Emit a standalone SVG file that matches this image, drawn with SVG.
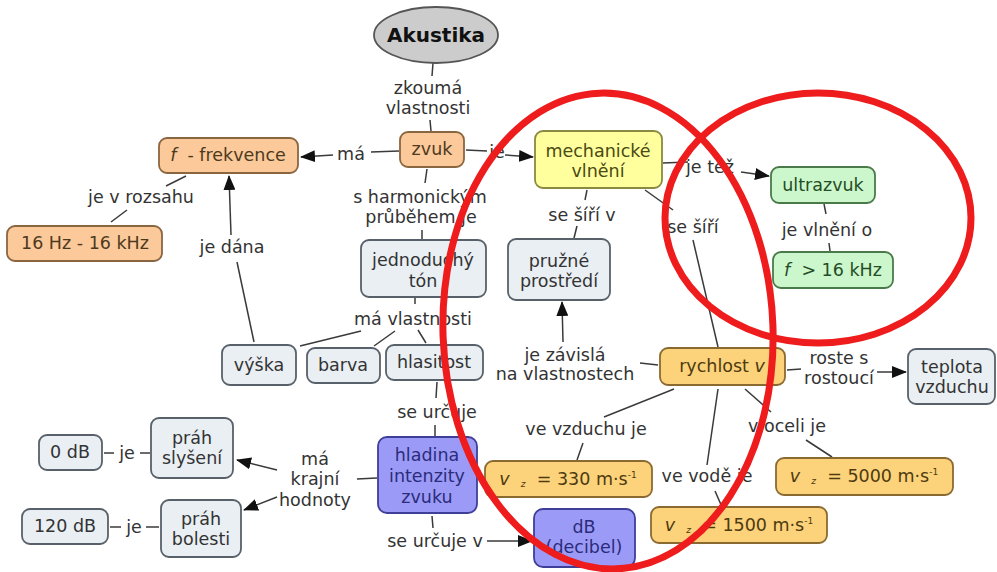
<svg xmlns="http://www.w3.org/2000/svg" width="997" height="572" viewBox="0 0 997 572">
<defs>
<marker id="arr" markerWidth="15" markerHeight="12" refX="14" refY="6" orient="auto" markerUnits="userSpaceOnUse"><path d="M0,0 L15,6 L0,12 z" fill="#111"/></marker>
<style>
text{font-family:"DejaVu Sans","Verdana",sans-serif;font-size:17.5px;text-anchor:middle;fill:#333;white-space:pre}
.c line{stroke:#3a3a3a;stroke-width:1.5;fill:none}
.c .a{marker-end:url(#arr)}
rect{stroke-width:1.8}
.or rect{fill:#fcc99a;stroke:#8a6640}
.or text{fill:#4d3a1e}
.gr rect{fill:#e9eff3;stroke:#58616a}
.gr text{fill:#333}
.ye rect{fill:#ffff9e;stroke:#8a8a40}
.ye text{fill:#4a4a12}
.gn rect{fill:#ccf7cc;stroke:#4a7a4a}
.gn text{fill:#254d25}
.bl rect{fill:#9b9bf7;stroke:#3f3f99}
.bl text{fill:#2b2b7a}
.go rect{fill:#fcd27a;stroke:#8a6a30}
.go text{fill:#4d3a10}
.i{font-style:italic}
.s{font-size:9px}
.red{fill:none;stroke:#ee1c1c;stroke-width:7}
</style>
</defs>
<rect x="0" y="0" width="997" height="572" fill="#fff" stroke="none"/>

<g id="connectors" class="c">
<line x1="433" y1="63" x2="432" y2="76"/>
<line x1="430" y1="120" x2="431" y2="131"/>
<line x1="399" y1="151" x2="371" y2="152"/>
<line class="a" x1="333" y1="155" x2="301" y2="157"/>
<line x1="466" y1="150" x2="487" y2="151"/>
<line class="a" x1="505" y1="155" x2="533" y2="157"/>
<line x1="186" y1="176" x2="166" y2="186"/>
<line x1="127" y1="210" x2="111" y2="222"/>
<line class="a" x1="231" y1="235" x2="229" y2="176"/>
<line x1="237" y1="262" x2="254" y2="342"/>
<line x1="427" y1="169" x2="425" y2="183"/>
<line x1="422" y1="230" x2="422" y2="240"/>
<line x1="415" y1="298" x2="415" y2="304"/>
<line x1="361" y1="331" x2="300" y2="346"/>
<line x1="395" y1="331" x2="374" y2="346"/>
<line x1="418" y1="330" x2="426" y2="343"/>
<line x1="437" y1="382" x2="436" y2="398"/>
<line x1="435" y1="425" x2="435" y2="436"/>
<line x1="377" y1="478" x2="357" y2="479"/>
<line class="a" x1="277" y1="470" x2="237" y2="460"/>
<line class="a" x1="277" y1="497" x2="244" y2="510"/>
<line x1="104" y1="453" x2="114" y2="453"/>
<line x1="140" y1="453" x2="150" y2="453"/>
<line x1="110" y1="527" x2="121" y2="527"/>
<line x1="146" y1="527" x2="159" y2="527"/>
<line x1="432" y1="516" x2="433" y2="528"/>
<line class="a" x1="487" y1="541" x2="532" y2="541"/>
<line x1="587" y1="190" x2="585" y2="200"/>
<line x1="577" y1="226" x2="574" y2="238"/>
<line x1="663" y1="163" x2="688" y2="162"/>
<line class="a" x1="741" y1="172" x2="769" y2="176"/>
<line x1="645" y1="190" x2="673" y2="210"/>
<line x1="693" y1="240" x2="718" y2="347"/>
<line x1="824" y1="204" x2="826" y2="214"/>
<line x1="829" y1="243" x2="830" y2="251"/>
<line x1="658" y1="365" x2="640" y2="363"/>
<line class="a" x1="563" y1="342" x2="562" y2="302"/>
<line x1="787" y1="370" x2="801" y2="369"/>
<line class="a" x1="877" y1="372" x2="906" y2="372"/>
<line x1="674" y1="389" x2="604" y2="417"/>
<line x1="583" y1="443" x2="577" y2="460"/>
<line x1="718" y1="389" x2="707" y2="465"/>
<line x1="715" y1="491" x2="722" y2="507"/>
<line x1="745" y1="389" x2="771" y2="412"/>
<line x1="806" y1="440" x2="832" y2="457"/>
</g>

<g id="labels">
<text x="428" y="94">zkoumá</text>
<text x="428" y="114">vlastnosti</text>
<text x="351" y="160">má</text>
<text x="497" y="158">je</text>
<text x="141" y="203">je v rozsahu</text>
<text x="232" y="253">je dána</text>
<text x="420" y="203">s harmonickým</text>
<text x="421" y="223">průběhem je</text>
<text x="413" y="325">má vlastnosti</text>
<text x="437" y="418">se určuje</text>
<text x="315" y="465">má</text>
<text x="315" y="485">krajní</text>
<text x="315" y="506">hodnoty</text>
<text x="127" y="459">je</text>
<text x="134" y="533">je</text>
<text x="435" y="547">se určuje v</text>
<text x="582" y="221">se šíří v</text>
<text x="710" y="173">je též</text>
<text x="693" y="233">se šíří</text>
<text x="827" y="236">je vlnění o</text>
<text x="565" y="361">je závislá</text>
<text x="565" y="380">na vlastnostech</text>
<text x="839" y="364">roste s</text>
<text x="839" y="384">rostoucí</text>
<text x="586" y="435">ve vzduchu je</text>
<text x="707" y="482">ve vodě je</text>
<text x="787" y="432">v oceli je</text>
</g>

<g id="akustika">
<ellipse cx="436" cy="35" rx="62" ry="28" fill="#cccccc" stroke="#555" stroke-width="1.8"/>
<text x="436" y="42" style="font-weight:bold;font-size:20px;fill:#111">Akustika</text>
</g>
<g id="zvuk" class="or"><rect x="400" y="132" width="64" height="35" rx="8"/><text x="432" y="155">zvuk</text></g>
<g id="frekvence" class="or"><rect x="159" y="138" width="139" height="35" rx="8"/><text x="228" y="161"><tspan class="i">f</tspan>  - frekvence</text></g>
<g id="rozsah" class="or"><rect x="7" y="226" width="155" height="35" rx="8"/><text x="85" y="249">16 Hz - 16 kHz</text></g>
<g id="ton" class="gr"><rect x="361" y="240" width="125" height="57" rx="8"/><text x="423" y="266">jednoduchý</text><text x="423" y="287">tón</text></g>
<g id="vyska" class="gr"><rect x="222" y="345" width="74" height="40" rx="8"/><text x="259" y="371">výška</text></g>
<g id="barva" class="gr"><rect x="307" y="348" width="73" height="35" rx="8"/><text x="343" y="371">barva</text></g>
<g id="hlasitost" class="gr"><rect x="386" y="345" width="97" height="35" rx="8"/><text x="434" y="368">hlasitost</text></g>
<g id="hladina" class="bl"><rect x="378" y="437" width="99" height="76" rx="9"/><text x="427" y="461">hladina</text><text x="427" y="482">intenzity</text><text x="427" y="503">zvuku</text></g>
<g id="prah-slyseni" class="gr"><rect x="151" y="418" width="82" height="60" rx="8"/><text x="192" y="444">práh</text><text x="192" y="464">slyšení</text></g>
<g id="prah-bolesti" class="gr"><rect x="161" y="500" width="80" height="57" rx="8"/><text x="201" y="525">práh</text><text x="201" y="545">bolesti</text></g>
<g id="db0" class="gr"><rect x="39" y="435" width="63" height="35" rx="8"/><text x="70" y="458">0 dB</text></g>
<g id="db120" class="gr"><rect x="22" y="509" width="86" height="35" rx="8"/><text x="65" y="532">120 dB</text></g>
<g id="decibel" class="bl"><rect x="534" y="509" width="101" height="58" rx="9"/><text x="584" y="533">dB</text><text x="584" y="553">(decibel)</text></g>
<g id="mechanicke" class="ye"><rect x="535" y="131" width="127" height="57" rx="8"/><text x="598" y="157">mechanické</text><text x="598" y="177">vlnění</text></g>
<g id="pruzne" class="gr"><rect x="508" y="239" width="102" height="61" rx="8"/><text x="559" y="267">pružné</text><text x="559" y="287">prostředí</text></g>
<g id="ultrazvuk" class="gn"><rect x="771" y="167" width="104" height="36" rx="8"/><text x="823" y="191">ultrazvuk</text></g>
<g id="f16" class="gn"><rect x="773" y="252" width="120" height="36" rx="8"/><text x="833" y="276"><tspan class="i">f</tspan>  &gt; 16 kHz</text></g>
<g id="rychlost" class="go"><rect x="660" y="348" width="125" height="37" rx="8"/><text x="722" y="372">rychlost <tspan class="i">v</tspan></text></g>
<g id="teplota" class="gr"><rect x="908" y="349" width="87" height="55" rx="8"/><text x="952" y="373">teplota</text><text x="952" y="393">vzduchu</text></g>
<g id="v330" class="go"><rect x="485" y="461" width="167" height="36" rx="8"/><text x="568" y="485"><tspan class="i">v</tspan>  <tspan class="s i" dy="2">z</tspan><tspan dy="-2">  = 330 m·s</tspan><tspan class="s" dy="-7">-1</tspan></text></g>
<g id="v1500" class="go"><rect x="651" y="507" width="176" height="36" rx="8"/><text x="739" y="531"><tspan class="i">v</tspan>  <tspan class="s i" dy="2">z</tspan><tspan dy="-2">  = 1500 m·s</tspan><tspan class="s" dy="-7">-1</tspan></text></g>
<g id="v5000" class="go"><rect x="776" y="458" width="177" height="37" rx="8"/><text x="864" y="482"><tspan class="i">v</tspan>  <tspan class="s i" dy="2">z</tspan><tspan dy="-2">  = 5000 m·s</tspan><tspan class="s" dy="-7">-1</tspan></text></g>

<g id="highlights">
<ellipse class="red" cx="608" cy="331" rx="165" ry="238" transform="rotate(-2 608 331)"/>
<ellipse class="red" cx="818" cy="218" rx="153" ry="125"/>
</g>
</svg>
